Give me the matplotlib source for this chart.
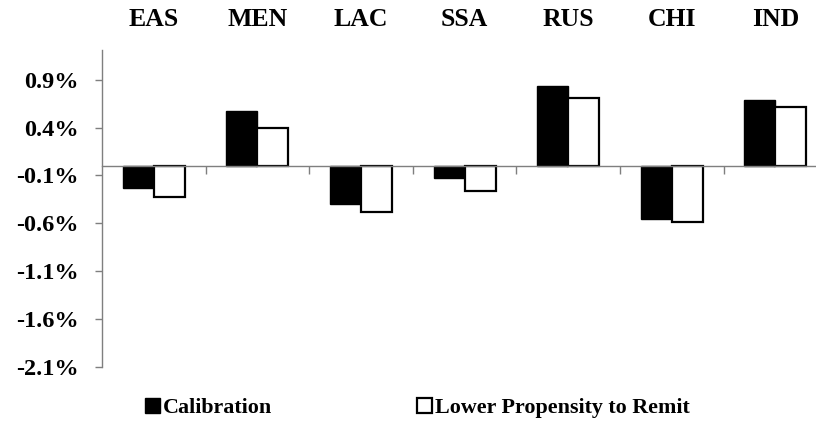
import matplotlib
matplotlib.use("Agg")
import matplotlib.pyplot as plt
import matplotlib.transforms as mtransforms
import numpy as np

categories = ["EAS", "MEN", "LAC", "SSA", "RUS", "CHI", "IND"]
calibration = [-0.23, 0.57, -0.40, -0.13, 0.83, -0.555, 0.69]
lower_propensity = [-0.32, 0.40, -0.48, -0.26, 0.705, -0.585, 0.61]
yticks = [0.9, 0.4, -0.1, -0.6, -1.1, -1.6, -2.1]
series_names = ["Calibration", "Lower Propensity to Remit"]

plt.rcParams['font.family'] = ['Liberation Serif', 'DejaVu Serif']
plt.rcParams['font.weight'] = 'bold'

fig = plt.figure(figsize=(8.16, 4.22), dpi=100)
ax = fig.add_axes([102/816, (422-367)/422, 7*103.6/816, (367-50)/422])

x = np.arange(len(categories)) + 0.5
w = 0.3
b1 = ax.bar(x - w/2, calibration, w, color='black', edgecolor='black', linewidth=1.0, label=series_names[0])
b2 = ax.bar(x + w/2, lower_propensity, w, color='white', edgecolor='black', linewidth=1.6, label=series_names[1])

ax.set_xlim(0, len(categories))
ax.set_ylim(-2.1, 1.21)

for s in ['top', 'right']:
    ax.spines[s].set_visible(False)
ax.spines['bottom'].set_position(('data', 0))
ax.spines['bottom'].set_color('#7f7f7f')
ax.spines['left'].set_color('#7f7f7f')
ax.spines['bottom'].set_linewidth(1.0)
ax.spines['left'].set_linewidth(1.0)

ax.set_xticks(np.arange(1, len(categories)))
ax.set_xticklabels([])
ax.tick_params(axis='x', direction='out', length=6, color='#7f7f7f', width=1.0)

ax.set_yticks(yticks)
ax.set_yticklabels([f"{v:.1f}%" for v in yticks], fontsize=17.5, fontweight='bold')
ax.tick_params(axis='y', direction='out', length=5, color='#7f7f7f', width=1.0, pad=12)

trans = mtransforms.blended_transform_factory(ax.transData, fig.transFigure)
for xi, c in zip(x, categories):
    ax.text(xi, 1 - 20/422, c, transform=trans, ha='center', va='center',
            fontsize=18.5, fontweight='bold', clip_on=False)

leg = fig.legend(handles=[b1, b2], labels=series_names, loc='center left',
                 bbox_to_anchor=(145/816, 1 - 408/422), ncol=2, frameon=False,
                 fontsize=15.8, handlelength=0.7, handleheight=0.7,
                 handletextpad=0.12, columnspacing=6.6, borderaxespad=0, borderpad=0)

fig.savefig("out.png", dpi=100)
